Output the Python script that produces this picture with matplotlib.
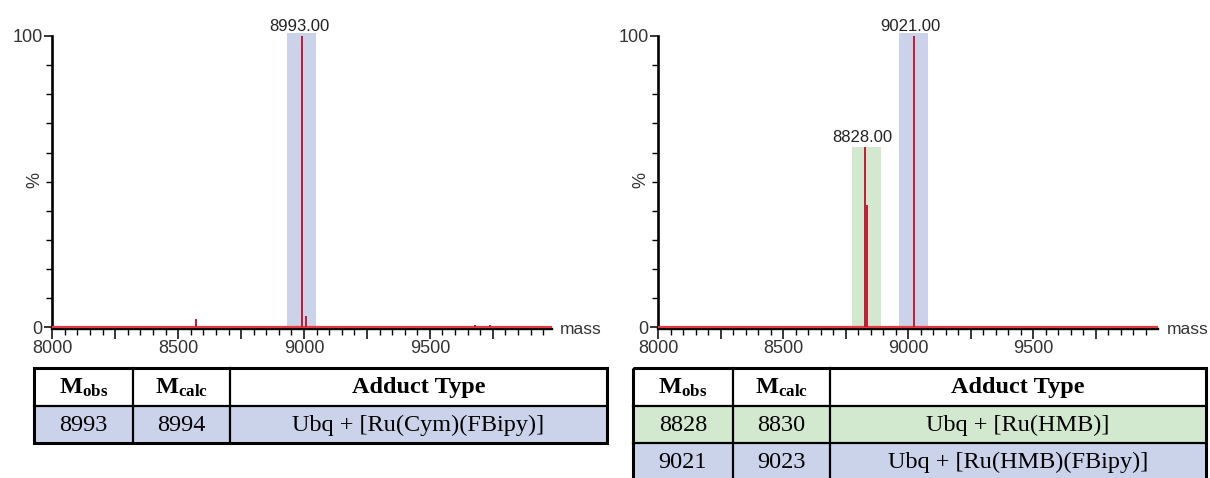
import numpy as np
import matplotlib
matplotlib.use("Agg")
import matplotlib.pyplot as plt
from matplotlib.patches import Rectangle
from matplotlib.ticker import FixedLocator, FuncFormatter

plt.rcParams['font.family'] = ['Liberation Sans', 'DejaVu Sans']
plt.rcParams['mathtext.fontset'] = 'custom'
plt.rcParams['mathtext.rm'] = 'Liberation Serif'
plt.rcParams['mathtext.bf'] = 'Liberation Serif:bold'

# spectrum sticks (mass, % intensity)
left_mass = [8570, 8990, 8993, 9008, 9678, 9737]
left_int = [3, 97, 100, 4, 0.8, 0.8]
right_mass = [8828, 8834, 9021]
right_int = [62, 42, 100]

# highlighted windows: low mass, high mass, top %
left_span_lo = [8934]
left_span_hi = [9047]
left_span_top = [101]
left_span_kind = ['blue']
right_span_lo = [8776, 8964]
right_span_hi = [8890, 9079]
right_span_top = [62, 101]
right_span_kind = ['green', 'blue']

# labelled peaks
left_label_mass = [8993]
left_label_int = [100]
right_label_mass = [8828, 9021]
right_label_int = [62, 100]

# tables
headers = [r'$\mathbf{M_{obs}}$', r'$\mathbf{M_{calc}}$', 'Adduct Type']
left_rows = [["8993", "8994", "Ubq + [Ru(Cym)(FBipy)]"]]
left_row_kind = ['blue']
right_rows = [["8828", "8830", "Ubq + [Ru(HMB)]"],
              ["9021", "9023", "Ubq + [Ru(HMB)(FBipy)]"]]
right_row_kind = ['green', 'blue']

colors = {'blue': '#cbd3ea', 'green': '#d3e9cf'}
peak_red = '#c41a34'
base_red = '#e5393f'

W, H = 1210, 478
fig = plt.figure(figsize=(W / 100, H / 100), dpi=100)


def px_axes(x0, x1, y_top, y_bot):
    return fig.add_axes([x0 / W, 1 - y_bot / H, (x1 - x0) / W, (y_bot - y_top) / H])


def spectrum(ax, xlim, mass, inten, lo, hi, top, kind, lab_m, lab_i):
    ax.bar(lo, top, width=np.array(hi) - np.array(lo), align='edge',
           color=[colors[k] for k in kind], zorder=1, clip_on=False)
    ax.axhline(0, color=base_red, lw=1.6, zorder=3)
    ax.vlines(mass, 0, inten, color=peak_red, lw=1.4, zorder=4, clip_on=False)
    for m, i in zip(lab_m, lab_i):
        ax.annotate(f"{m:.2f}", (m, i), xytext=(-3, 2), textcoords='offset pixels',
                    ha='center', va='bottom', fontsize=12, color='#222222',
                    family=['Liberation Sans Narrow', 'Liberation Sans', 'DejaVu Sans'])
    ax.set_xlim(*xlim)
    ax.set_ylim(-0.6, 101.5)
    for s in ['top', 'right']:
        ax.spines[s].set_visible(False)
    ax.spines['left'].set_bounds(0, 100)
    ax.spines['left'].set_linewidth(1.9)
    ax.spines['bottom'].set_linewidth(1.7)
    ax.xaxis.set_major_locator(FixedLocator(np.arange(8000, xlim[1], 250)))
    ax.xaxis.set_minor_locator(FixedLocator(np.arange(8000, xlim[1], 50)))
    ax.xaxis.set_major_formatter(FuncFormatter(lambda v, p: f"{v:.0f}" if v % 500 == 0 else ""))
    ax.yaxis.set_major_locator(FixedLocator([0, 100]))
    ax.yaxis.set_minor_locator(FixedLocator(np.arange(10, 100, 10)))
    ax.tick_params(axis='x', which='major', length=7, width=1.1, pad=1, labelsize=13, labelcolor='#333333')
    ax.tick_params(axis='x', which='minor', length=4, width=1.0)
    ax.tick_params(axis='y', which='major', length=6, width=1.1, pad=1, labelsize=13, labelcolor='#333333')
    ax.tick_params(axis='y', which='minor', length=4, width=1.0)
    ax.set_ylabel('%', fontsize=13, color='#333333')
    ax.yaxis.set_label_coords(-0.018, 0.5)
    ax.annotate('mass', (1, 0), xycoords='axes fraction', xytext=(8, 0),
                textcoords='offset pixels', va='center', ha='left', fontsize=12.5, color='#333333')


ax1 = px_axes(52.3, 552, 31.6, 329.2)
spectrum(ax1, (8000, 9985), left_mass, left_int, left_span_lo, left_span_hi,
         left_span_top, left_span_kind, left_label_mass, left_label_int)
ax2 = px_axes(658.3, 1158.3, 31.6, 329.2)
spectrum(ax2, (8000, 10000), right_mass, right_int, right_span_lo, right_span_hi,
         right_span_top, right_span_kind, right_label_mass, right_label_int)

# tables drawn in pixel space
tab = fig.add_axes([0, 0, 1, 1])
tab.set_xlim(0, W)
tab.set_ylim(H, 0)
tab.axis('off')


def table(cols, rows, kinds, y0=368, rh=37.5):
    n = len(rows) + 1
    for r, (row, k) in enumerate(zip(rows, kinds)):
        top = y0 + rh * (r + 1)
        tab.add_patch(Rectangle((cols[0], top), cols[-1] - cols[0], rh,
                                facecolor=colors[k], edgecolor='none'))
        for c, txt in enumerate(row):
            tab.text((cols[c] + cols[c + 1]) / 2, top + rh / 2 + 1, txt, ha='center',
                     va='center', fontsize=17.5, family='Liberation Serif')
    for c, txt in enumerate(headers):
        tab.text((cols[c] + cols[c + 1]) / 2, y0 + rh / 2 + 1, txt, ha='center',
                 va='center', fontsize=17.5, family='Liberation Serif', weight='bold')
    for r in range(1, n):
        tab.plot([cols[0], cols[-1]], [y0 + rh * r] * 2, color='black', lw=1.6)
    for x in cols[1:-1]:
        tab.plot([x, x], [y0, y0 + rh * n], color='black', lw=1.6)
    tab.add_patch(Rectangle((cols[0], y0), cols[-1] - cols[0], rh * n,
                            facecolor='none', edgecolor='black', lw=2.2))


table([33.7, 132.8, 229.9, 607], left_rows, left_row_kind)
table([633.3, 732.5, 830, 1206], right_rows, right_row_kind)

fig.savefig('out.png', dpi=100)
